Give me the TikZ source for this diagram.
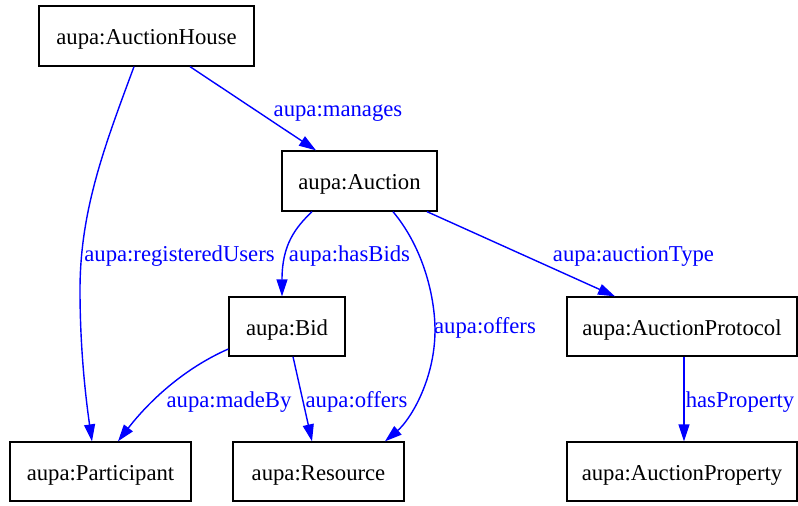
\documentclass[tikz,border=0pt]{standalone}
\usepackage{fontspec}
\setmainfont{Liberation Serif}
\usetikzlibrary{arrows.meta}
\begin{document}
\begin{tikzpicture}[x=1pt,y=-1pt,
  box/.style={draw=black,line width=1.3pt,rectangle,inner sep=0pt,text height=17pt,text depth=0pt,font=\fontsize{22.7pt}{26pt}\selectfont},
  lbl/.style={text=blue,inner sep=0pt,text height=13.4pt,text depth=0pt,font=\fontsize{22.7pt}{26pt}\selectfont},
  edge/.style={draw=blue,line width=1.4pt,-{Triangle[length=17pt,width=11pt]}}]
\useasboundingbox (0,0) rectangle (798,506);
\node[box,minimum width=215pt,minimum height=60pt] (AH) at (146.5,36) {aupa:AuctionHouse};
\node[box,minimum width=155pt,minimum height=60pt] (AU) at (359.5,181) {aupa:Auction};
\node[box,minimum width=116pt,minimum height=59pt] (BI) at (287,326.5) {aupa:Bid};
\node[box,minimum width=230pt,minimum height=59pt] (AP) at (682,326.5) {aupa:AuctionProtocol};
\node[box,minimum width=181pt,minimum height=59pt] (PA) at (100.5,471.5) {aupa:Participant};
\node[box,minimum width=171pt,minimum height=59pt] (RE) at (318.5,471.5) {aupa:Resource};
\node[box,minimum width=230pt,minimum height=59pt] (AY) at (682,471.5) {aupa:AuctionProperty};

\draw[edge] ([xshift=43.5pt]AH.south) -- ([xshift=-43.5pt]AU.north);
\draw[edge] ([xshift=-12.5pt]AH.south) .. controls (105,145) and (80,210) .. (80,290) .. controls (80,350) and (86,400) .. ([xshift=-8.5pt]PA.north);
\draw[edge] ([xshift=-47.5pt]AU.south) .. controls (295,228) and (282,245) .. ([xshift=-5pt]BI.north);
\draw[edge] ([xshift=33.5pt]AU.south) .. controls (425,250) and (435,300) .. (435,330) .. controls (435,380) and (410,420) .. ([xshift=66.5pt]RE.north);
\draw[edge] ([xshift=67.5pt]AU.south) -- ([xshift=-67pt]AP.north);
\draw[edge] ([yshift=-22.5pt]BI.west) .. controls (185,368) and (150,400) .. ([xshift=17.5pt]PA.north);
\draw[edge] ([xshift=6pt]BI.south) -- ([xshift=-6.5pt]RE.north);
\draw[edge] ([xshift=2pt]AP.south) -- ([xshift=2pt]AY.north);

\node[lbl] (l1) at (338,110) {aupa:manages};
\node[lbl] (l2) at (179.5,255) {aupa:registeredUsers};
\node[lbl] (l3) at (349.5,255) {aupa:hasBids};
\node[lbl] (l4) at (485,327) {aupa:offers};
\node[lbl] (l5) at (633.5,255) {aupa:auctionType};
\node[lbl] (l6) at (229,401) {aupa:madeBy};
\node[lbl] (l7) at (356.5,401) {aupa:offers};
\node[lbl] (l8) at (740,401) {hasProperty};
\end{tikzpicture}
\end{document}
